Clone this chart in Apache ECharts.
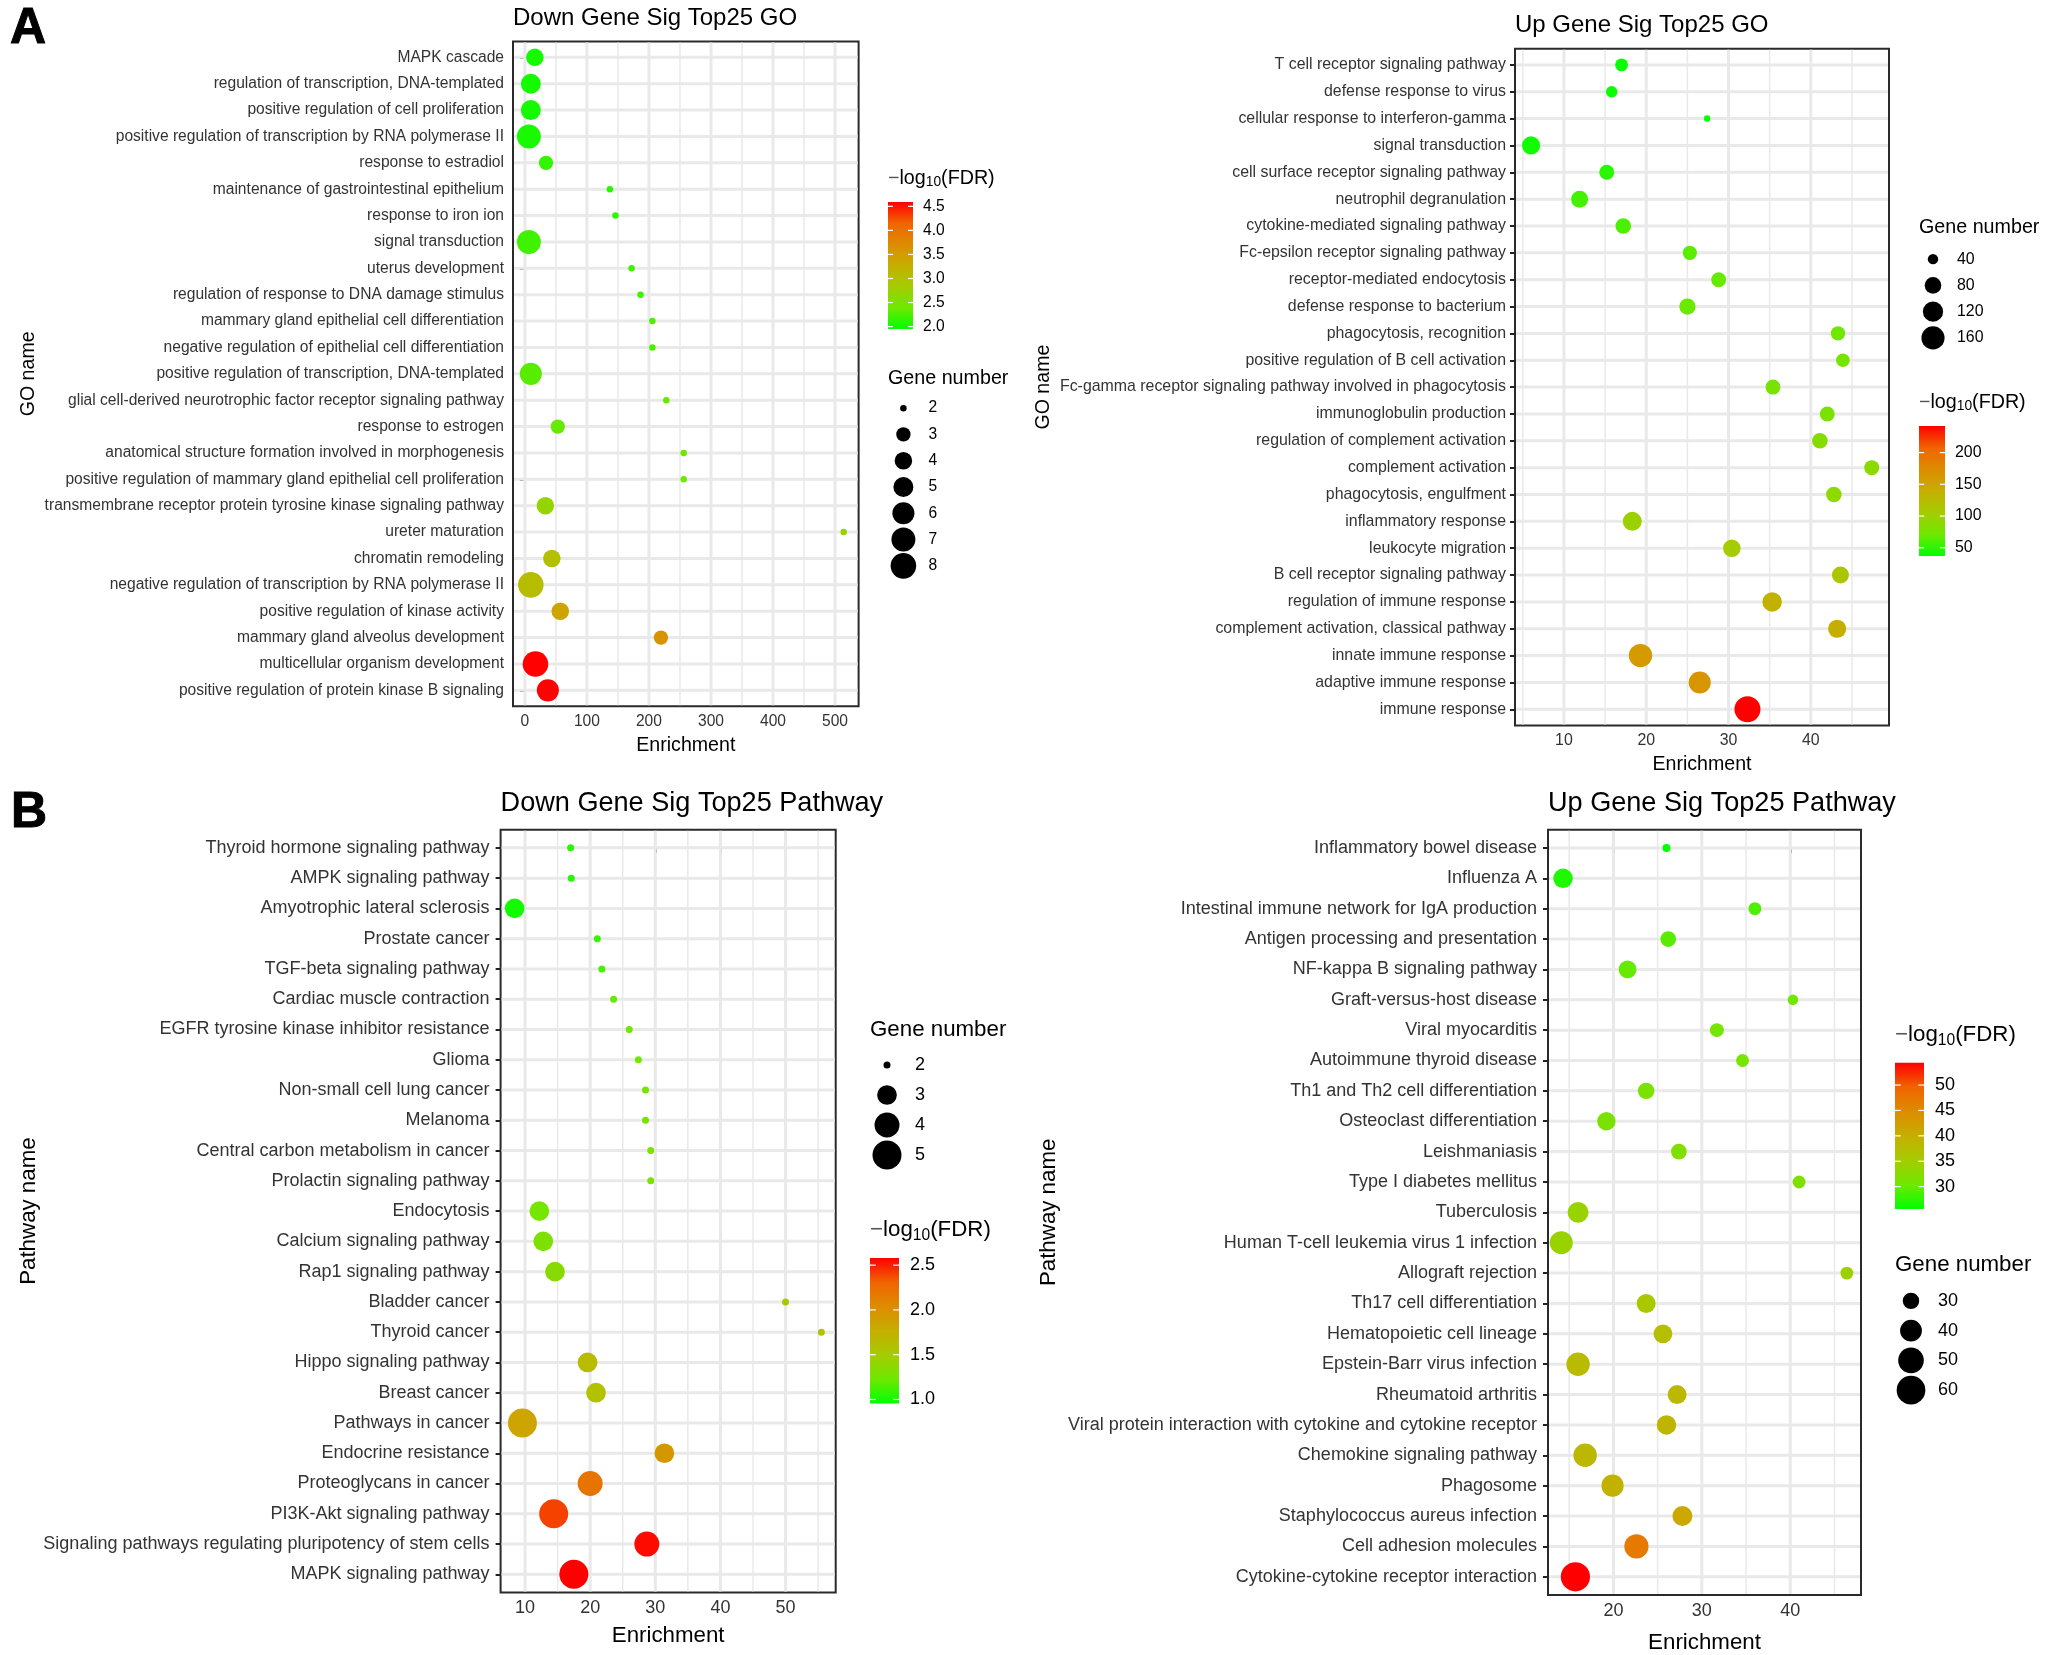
<!DOCTYPE html>
<html><head><meta charset="utf-8">
<style>html,body{margin:0;padding:0;background:#fff;overflow:hidden}#c{width:2050px;height:1655px}</style>
<script src="https://cdn.jsdelivr.net/npm/echarts@6/dist/echarts.min.js"></script>
</head><body><div id="c"></div>
<script>
const downGoCategories = ["MAPK cascade","regulation of transcription, DNA-templated","positive regulation of cell proliferation","positive regulation of transcription by RNA polymerase II","response to estradiol","maintenance of gastrointestinal epithelium","response to iron ion","signal transduction","uterus development","regulation of response to DNA damage stimulus","mammary gland epithelial cell differentiation","negative regulation of epithelial cell differentiation","positive regulation of transcription, DNA-templated","glial cell-derived neurotrophic factor receptor signaling pathway","response to estrogen","anatomical structure formation involved in morphogenesis","positive regulation of mammary gland epithelial cell proliferation","transmembrane receptor protein tyrosine kinase signaling pathway","ureter maturation","chromatin remodeling","negative regulation of transcription by RNA polymerase II","positive regulation of kinase activity","mammary gland alveolus development","multicellular organism development","positive regulation of protein kinase B signaling"];
const downGoEnrichment = [16,9.5,9.5,6.4,34,137,146,6.4,172,186.4,205.5,205.5,9.5,228,53,256,256,33,514,43.4,9.5,57,219.3,17,37];
const downGoFdr = [2.03,2.03,2.03,2.05,2.15,2.1,2.15,2.2,2.2,2.2,2.25,2.25,2.3,2.35,2.35,2.4,2.4,2.7,2.7,3.0,3.05,3.4,3.6,4.58,4.58];
const downGoGenes = [4,5,5,7,3,2,2,7,2,2,2,2,6,2,3,2,2,4,2,4,8,4,3,8,6];
const downGoTicks = [0,100,200,300,400,500];
const downGoMinor = [50,150,250,350,450];
const downGoFdrTicks = [2,2.5,3,3.5,4,4.5];
const downGoSizeTicks = [2,3,4,5,6,7,8];

const upGoCategories = ["T cell receptor signaling pathway","defense response to virus","cellular response to interferon-gamma","signal transduction","cell surface receptor signaling pathway","neutrophil degranulation","cytokine-mediated signaling pathway","Fc-epsilon receptor signaling pathway","receptor-mediated endocytosis","defense response to bacterium","phagocytosis, recognition","positive regulation of B cell activation","Fc-gamma receptor signaling pathway involved in phagocytosis","immunoglobulin production","regulation of complement activation","complement activation","phagocytosis, engulfment","inflammatory response","leukocyte migration","B cell receptor signaling pathway","regulation of immune response","complement activation, classical pathway","innate immune response","adaptive immune response","immune response"];
const upGoEnrichment = [17,15.8,27.4,6,15.2,11.9,17.2,25.3,28.8,25,43.3,43.9,35.4,42,41.1,47.4,42.8,18.3,30.4,43.6,35.3,43.2,19.3,26.5,32.3];
const upGoFdr = [40,40,40,42,50,58,60,65,68,70,72,75,78,80,85,88,90,100,105,112,135,140,160,165,242];
const upGoGenes = [52,45,33,96,66,84,71,61,66,77,61,57,66,66,71,66,71,105,89,84,111,96,164,145,208];
const upGoTicks = [10,20,30,40];
const upGoMinor = [5,15,25,35,45];
const upGoFdrTicks = [50,100,150,200];
const upGoSizeTicks = [40,80,120,160];

const downPathCategories = ["Thyroid hormone signaling pathway","AMPK signaling pathway","Amyotrophic lateral sclerosis","Prostate cancer","TGF-beta signaling pathway","Cardiac muscle contraction","EGFR tyrosine kinase inhibitor resistance","Glioma","Non-small cell lung cancer","Melanoma","Central carbon metabolism in cancer","Prolactin signaling pathway","Endocytosis","Calcium signaling pathway","Rap1 signaling pathway","Bladder cancer","Thyroid cancer","Hippo signaling pathway","Breast cancer","Pathways in cancer","Endocrine resistance","Proteoglycans in cancer","PI3K-Akt signaling pathway","Signaling pathways regulating pluripotency of stem cells","MAPK signaling pathway"];
const downPathEnrichment = [17,17.1,8.4,21.1,21.8,23.6,26,27.4,28.5,28.5,29.3,29.3,12.2,12.8,14.6,50,55.5,19.6,20.9,9.6,31.4,20,14.4,28.7,17.5];
const downPathFdr = [1.05,1.05,1.0,1.1,1.12,1.2,1.22,1.25,1.27,1.27,1.28,1.28,1.25,1.3,1.35,1.55,1.6,1.65,1.6,1.85,1.95,2.2,2.4,2.55,2.58];
const downPathGenes = [2,2,3,2,2,2,2,2,2,2,2,2,3,3,3,2,2,3,3,5,3,4,5,4,5];
const downPathTicks = [10,20,30,40,50];
const downPathMinor = [15,25,35,45,55];
const downPathFdrTicks = [1,1.5,2,2.5];
const downPathSizeTicks = [2,3,4,5];

const upPathCategories = ["Inflammatory bowel disease","Influenza A","Intestinal immune network for IgA production","Antigen processing and presentation","NF-kappa B signaling pathway","Graft-versus-host disease","Viral myocarditis","Autoimmune thyroid disease","Th1 and Th2 cell differentiation","Osteoclast differentiation","Leishmaniasis","Type I diabetes mellitus","Tuberculosis","Human T-cell leukemia virus 1 infection","Allograft rejection","Th17 cell differentiation","Hematopoietic cell lineage","Epstein-Barr virus infection","Rheumatoid arthritis","Viral protein interaction with cytokine and cytokine receptor","Chemokine signaling pathway","Phagosome","Staphylococcus aureus infection","Cell adhesion molecules","Cytokine-cytokine receptor interaction"];
const upPathEnrichment = [26,14.3,36,26.2,21.6,40.3,31.7,34.6,23.7,19.2,27.4,41,16,14.1,46.4,23.7,25.6,16,27.2,26,16.8,19.9,27.8,22.6,15.7];
const upPathFdr = [25.6,27,29,29.5,30,30.5,31,31,31.5,31.5,32,32,34,34,34.5,36,37.5,38,38.5,39,38.5,39.5,41,47,54.4];
const upPathGenes = [24,35,26,29,32,24.5,27,26,30,33,29,26,38,43,26,34,34,44,34,35,44,41,36,46,62];
const upPathTicks = [20,30,40];
const upPathMinor = [15,25,35,45];
const upPathFdrTicks = [30,35,40,45,50];
const upPathSizeTicks = [30,40,50,60];

const FONT = '"Liberation Sans", Arial, sans-serif';
const RAMP = ['#00ff00','#6fe800','#a5cc00','#c6ae00','#dd8c00','#f06400','#ff0000'];
const option = {animation:false, backgroundColor:'#fff', textStyle:{fontFamily:FONT},
  title:[], grid:[], xAxis:[], yAxis:[], series:[], visualMap:[]};
function txt(text, left, cy, size, extra){
  option.title.push(Object.assign({text, left, top:cy-size*0.5, padding:0,
    textStyle:Object.assign({fontFamily:FONT,fontSize:size,fontWeight:'normal',color:'#000'},extra||{})}));
}
function fdrTitle(left, cy, size){
  option.title.push({text:'{m|\u2212}{a|log}{s|10}{a|(FDR)}', left, top:cy-size*0.62, padding:0,
    textStyle:{fontWeight:'normal',rich:{
      m:{fontFamily:FONT,fontSize:size,fontWeight:'normal',color:'#555'},
      a:{fontFamily:FONT,fontSize:size,fontWeight:'normal',color:'#000'},
      s:{fontFamily:FONT,fontSize:size*0.7,fontWeight:'normal',color:'#000',verticalAlign:'bottom',padding:[size*0.45,0,0,0]}}}});
}
function plot(p){
  const gi = option.grid.length;
  const n = p.categories.length;
  option.grid.push({left:p.l, top:p.t, width:p.r-p.l, height:p.b-p.t, show:true,
    borderColor:'#2a2a2a', borderWidth:2, backgroundColor:'#fff', containLabel:false});
  const axisFont = {fontFamily:FONT, fontSize:p.tickFont, color:'#333'};
  option.xAxis.push({gridIndex:gi, type:'value', min:p.xMin, max:p.xMax, position:'bottom',
    splitLine:{show:false}, axisLine:{show:false},
    axisTick:{show:true,length:5,lineStyle:{color:'#222',width:2},customValues:p.ticks},
    axisLabel:{customValues:p.ticks,margin:7,fontFamily:FONT,fontSize:p.xFont,color:'#333',hideOverlap:false,showMinLabel:true,showMaxLabel:true},
    name:'Enrichment', nameLocation:'middle', nameGap:p.xNameGap,
    nameTextStyle:{fontFamily:FONT,fontSize:p.nameFont,color:'#000'}});
  const idx = p.categories.map((_,i)=>i);
  option.yAxis.push({gridIndex:gi, type:'value', inverse:true, min:-0.6, max:n-1+0.6,
    splitLine:{show:false}, axisLine:{show:false},
    axisTick:{show:true,length:5,lineStyle:{color:'#222',width:2},customValues:idx},
    axisLabel:{customValues:idx,margin:p.yLabelMargin,padding:[4,0,0,0],formatter:v=>p.categories[v],showMinLabel:true,showMaxLabel:true,hideOverlap:false,...axisFont},
    name:p.yName, nameLocation:'middle', nameRotate:90, nameGap:p.yNameGap,
    nameTextStyle:{fontFamily:FONT,fontSize:p.nameFont,color:'#000'}});
  const gl = [];
  p.minor.forEach(v=>gl.push([0,v,1.5]));
  idx.forEach(v=>gl.push([1,v,3]));
  p.ticks.forEach(v=>gl.push([0,v,3]));
  option.series.push({type:'custom', xAxisIndex:gi, yAxisIndex:gi, z:1, silent:true, clip:false,
    data:gl, encode:{x:1,y:1},
    renderItem:(params,api)=>{
      const k=api.value(0),v=api.value(1),w=api.value(2),c=params.coordSys;
      const lo=1,sh=(k===0)?api.coord([v,0]):api.coord([p.xMin,v]);
      const shape=k===0?{x1:sh[0],x2:sh[0],y1:c.y+lo,y2:c.y+c.height-lo}:{x1:c.x+lo,x2:c.x+c.width-lo,y1:sh[1],y2:sh[1]};
      return {type:'line',shape,style:{stroke:'#e9e9e9',lineWidth:w,fill:null}};
    }});
  const size = g => p.dMin+(p.dMax-p.dMin)*Math.sqrt(Math.max(0,(g-p.nMin))/(p.nMax-p.nMin));
  const si = option.series.length;
  option.series.push({type:'scatter', xAxisIndex:gi, yAxisIndex:gi, z:5, clip:false,
    data:p.enrichment.map((e,i)=>[e,i,p.fdr[i],p.genes[i]]),
    symbolSize:d=>size(d[3]), itemStyle:{opacity:1}});
  option.visualMap.push({show:false, seriesIndex:si, dimension:2, min:p.fdrMin, max:p.fdrMax, inRange:{color:RAMP}});
  const ci = gi+1;
  option.grid.push({left:p.barL, width:p.barW, top:p.barT, height:p.barB-p.barT, show:false});
  option.xAxis.push({gridIndex:ci,type:'value',min:0,max:1,show:false});
  option.yAxis.push({gridIndex:ci,type:'value',position:'right',min:p.fdrMin,max:p.fdrMax,
    splitLine:{show:false},axisLine:{show:false},axisTick:{show:false},
    axisLabel:{customValues:p.fdrTicks,margin:p.barMargin,showMinLabel:true,showMaxLabel:true,hideOverlap:false,
      formatter:p.fdrFmt,fontFamily:FONT,fontSize:p.legFont,color:'#000'}});
  option.series.push({type:'custom',xAxisIndex:ci,yAxisIndex:ci,z:3,silent:true,clip:false,
    data:[[0,p.fdrMin]],encode:{x:0,y:1},
    renderItem:(params,api)=>{
      const a=api.coord([0,p.fdrMax]),b=api.coord([1,p.fdrMin]);
      return {type:'rect',shape:{x:a[0],y:a[1],width:b[0]-a[0],height:b[1]-a[1]},
        style:{fill:new echarts.graphic.LinearGradient(0,1,0,0,RAMP.map((color,i)=>({offset:i/(RAMP.length-1),color})))}};
    }});
  option.series.push({type:'custom',xAxisIndex:ci,yAxisIndex:ci,z:4,silent:true,clip:false,
    data:p.fdrTicks.map(v=>[0,v]),encode:{x:0,y:1},
    renderItem:(params,api)=>{
      const a=api.coord([0,api.value(1)]),b=api.coord([1,api.value(1)]),t=p.barW/5;
      return {type:'group',children:[
        {type:'line',shape:{x1:a[0],y1:a[1],x2:a[0]+t,y2:a[1]},style:{stroke:'#fff',lineWidth:1.2}},
        {type:'line',shape:{x1:b[0]-t,y1:a[1],x2:b[0],y2:a[1]},style:{stroke:'#fff',lineWidth:1.2}}]};
    }});
  const li = gi+2;
  option.grid.push({left:p.sizeX-20, width:40, top:p.sizeT, height:p.sizeB-p.sizeT, show:false});
  option.xAxis.push({gridIndex:li,type:'value',min:0,max:1,show:false});
  option.yAxis.push({gridIndex:li,type:'category',inverse:true,position:'right',data:p.sizeTicks.map(String),
    splitLine:{show:false},axisLine:{show:false},axisTick:{show:false},
    axisLabel:{margin:p.sizeMargin,fontFamily:FONT,fontSize:p.legFont,color:'#000'}});
  option.series.push({type:'scatter',xAxisIndex:li,yAxisIndex:li,z:5,clip:false,
    data:p.sizeTicks.map((g,i)=>[0.5,i,g]),symbolSize:d=>size(d[2]),itemStyle:{color:'#000',opacity:1}});
  txt(p.title,p.l,p.titleY,p.titleFont);
  fdrTitle(p.barL,p.fdrTitleY,p.legTitleFont);
  txt('Gene number',p.barL,p.sizeTitleY,p.legTitleFont);
}
plot({title:'Down Gene Sig Top25 GO',titleY:18.4,titleFont:24,categories:downGoCategories,enrichment:downGoEnrichment,fdr:downGoFdr,genes:downGoGenes,ticks:downGoTicks,minor:downGoMinor,fdrTicks:downGoFdrTicks,sizeTicks:downGoSizeTicks,l:513,r:858.6,t:41.5,b:706.2,xMin:-19.2,xMax:538,tickFont:15.6,xFont:15.6,nameFont:19.6,xNameGap:29,yName:'GO name',yNameGap:474,yLabelMargin:9,nMin:2,nMax:8,dMin:6.5,dMax:25.6,fdrMin:1.95,fdrMax:4.59,barL:888,barW:25,barT:202,barB:329,barMargin:10,fdrFmt:v=>v.toFixed(1),legFont:15.6,legTitleFont:19.7,fdrTitleY:179,sizeTitleY:378,sizeX:903.4,sizeT:395,sizeB:579,sizeMargin:5});
plot({title:'Up Gene Sig Top25 GO',titleY:25,titleFont:24,categories:upGoCategories,enrichment:upGoEnrichment,fdr:upGoFdr,genes:upGoGenes,ticks:upGoTicks,minor:upGoMinor,fdrTicks:upGoFdrTicks,sizeTicks:upGoSizeTicks,l:1515,r:1889,t:48.8,b:725.4,xMin:4.05,xMax:49.5,tickFont:15.9,xFont:15.9,nameFont:19.6,xNameGap:29,yName:'GO name',yNameGap:461,yLabelMargin:9,nMin:33,nMax:208,dMin:6.5,dMax:26,fdrMin:37,fdrMax:242,barL:1919,barW:26,barT:426,barB:556,barMargin:10,fdrFmt:v=>String(v),legFont:15.9,legTitleFont:19.7,fdrTitleY:403,sizeTitleY:227,sizeX:1933,sizeT:246,sizeB:351,sizeMargin:4});
plot({title:'Down Gene Sig Top25 Pathway',titleY:803.5,titleFont:27.1,categories:downPathCategories,enrichment:downPathEnrichment,fdr:downPathFdr,genes:downPathGenes,ticks:downPathTicks,minor:downPathMinor,fdrTicks:downPathFdrTicks,sizeTicks:downPathSizeTicks,l:500.6,r:835.7,t:829.7,b:1592.5,xMin:6.25,xMax:57.7,tickFont:18,xFont:18,nameFont:22.3,xNameGap:32,yName:'Pathway name',yNameGap:461,yLabelMargin:11,nMin:2,nMax:5,dMin:7,dMax:29,fdrMin:0.955,fdrMax:2.58,barL:870,barW:29,barT:1258,barB:1403.5,barMargin:11,fdrFmt:v=>v.toFixed(1),legFont:18,legTitleFont:22.3,fdrTitleY:1231,sizeTitleY:1030,sizeX:887,sizeT:1050,sizeB:1170,sizeMargin:8});
plot({title:'Up Gene Sig Top25 Pathway',titleY:803.5,titleFont:27.1,categories:upPathCategories,enrichment:upPathEnrichment,fdr:upPathFdr,genes:upPathGenes,ticks:upPathTicks,minor:upPathMinor,fdrTicks:upPathFdrTicks,sizeTicks:upPathSizeTicks,l:1548,r:1861,t:829.7,b:1597.7,xMin:12.6,xMax:48,tickFont:18,xFont:18,nameFont:22.3,xNameGap:37,yName:'Pathway name',yNameGap:488,yLabelMargin:11,nMin:24,nMax:62.2,dMin:8,dMax:29.3,fdrMin:25.6,fdrMax:54.4,barL:1895,barW:29,barT:1062.7,barB:1209,barMargin:11,fdrFmt:v=>String(v),legFont:18,legTitleFont:22.3,fdrTitleY:1036,sizeTitleY:1265,sizeX:1911,sizeT:1286,sizeB:1405,sizeMargin:7});
const letterStyle = {fontWeight:'bold',textBorderColor:'#000',textBorderWidth:1};
txt('A',10,29,50,letterStyle);
txt('B',11,813,50,letterStyle);
echarts.init(document.getElementById('c'),null,{renderer:'canvas'}).setOption(option);
</script>
</body></html>
